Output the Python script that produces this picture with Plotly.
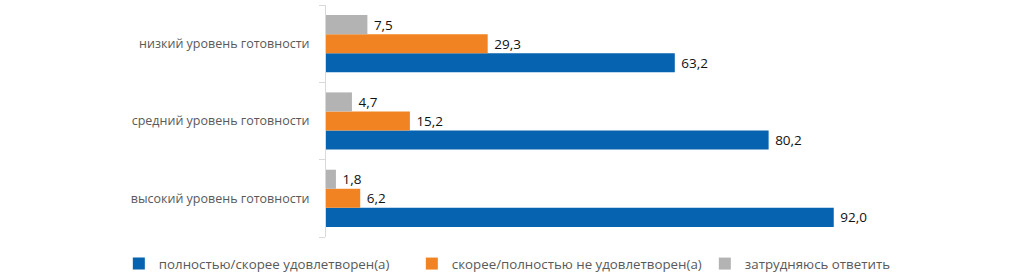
import plotly.graph_objects as go

categories = ["высокий уровень готовности", "средний уровень готовности", "низкий уровень готовности"]
satisfied = [92.0, 80.2, 63.2]
not_satisfied = [6.2, 15.2, 29.3]
hard_to_say = [1.8, 4.7, 7.5]
series_names = ["полностью/скорее удовлетворен(а)", "скорее/полностью не удовлетворен(а)", "затрудняюсь ответить"]
colors = ["#0563AF", "#F28322", "#B3B3B3"]

fig = go.Figure()
for name, vals, col in zip(series_names, [satisfied, not_satisfied, hard_to_say], colors):
    fig.add_trace(go.Bar(
        y=categories, x=vals, name=name, orientation="h",
        marker=dict(color=col, line=dict(width=0)),
        texttemplate="&nbsp;%{x:.1f}", textposition="outside",
        textfont=dict(color="#111111", size=13.5),
        cliponaxis=False,
    ))

fig.update_layout(
    width=1022, height=276,
    margin=dict(l=326, r=10, t=5, b=39, autoexpand=False),
    barmode="group", bargap=0.26, bargroupgap=0,
    separators=", ",
    plot_bgcolor="white", paper_bgcolor="white",
    font=dict(family="Open Sans", size=12.5, color="#595959"),
    showlegend=True,
    legend=dict(orientation="h", xref="paper", yref="paper",
                x=-0.302, xanchor="left", y=-0.116, yanchor="middle",
                font=dict(size=13.3, color="#595959"), traceorder="normal",
                entrywidth=248, entrywidthmode="pixels", itemwidth=30),
    xaxis=dict(range=[0, 124.3], visible=False, showgrid=False),
    yaxis=dict(categoryorder="array", categoryarray=categories,
               showline=True, linecolor="#D9D9D9", linewidth=1,
               ticks="outside", tickson="boundaries", ticklen=6, tickcolor="#D9D9D9",
               showgrid=False, ticklabelstandoff=13),
)

fig.write_html("out.html")
